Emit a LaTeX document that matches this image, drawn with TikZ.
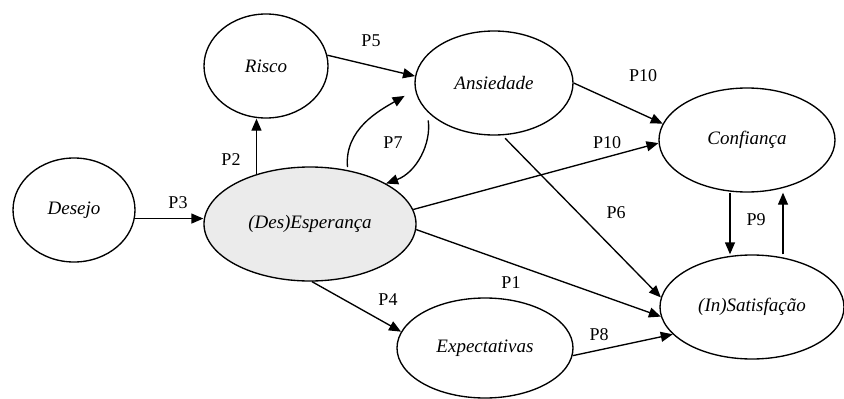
\documentclass[tikz,border=0pt]{standalone}
\usepackage{fontspec}
\setmainfont{Liberation Serif}
\usetikzlibrary{shapes.geometric,arrows.meta}
\begin{document}
\begin{tikzpicture}[x=1pt,y=1pt,
  ell/.style={ellipse,draw,line width=1.35pt,inner sep=0pt,font=\fontsize{19}{22}\selectfont\itshape},
  arr/.style={line width=1.35pt,-{Triangle[length=12pt,width=10pt]}},
  lab/.style={font=\fontsize{18}{21}\selectfont,inner sep=0pt}]
\useasboundingbox (0,0) rectangle (844,-399);
\definecolor{espfill}{HTML}{EBEBEB}
% nodes
\node[ell,minimum width=122pt,minimum height=104pt] (des) at (74,-210) {Desejo};
\node[ell,minimum width=124pt,minimum height=104pt] (ris) at (266,-66) {Risco};
\node[ell,minimum width=158pt,minimum height=104pt] (ans) at (494,-83) {Ansiedade};
\node[ell,minimum width=176pt,minimum height=104pt] (con) at (747,-140) {Confiança};
\node[ell,fill=espfill,minimum width=212pt,minimum height=114pt] (esp) at (310,-224) {(Des)Esperança};
\node[ell,minimum width=176pt,minimum height=100pt] (exp) at (485,-348) {Expectativas};
\node[ell,minimum width=184pt,minimum height=104pt] (sat) at (752,-307) {(In)Satisfação};
% connectors
\draw[arr] (des.-8) -- (esp.west |- des.-8);
\draw[arr] (esp.137) -- (ris.south -| esp.137);
\draw[arr] (ris.10) -- (ans.175);
\draw[arr,shorten <=3pt,shorten >=12pt] (esp.55) to[out=95,in=210] (ans.185);
\draw[arr,shorten <=9pt] (ans.203) to[out=-82,in=20] (esp.28);
\draw[arr] (ans.0) -- (con.169);
\draw[arr] (esp.8) -- (con.182);
\draw[arr,shorten <=4pt] (ans.-81) -- (sat.174);
\draw[arr] (esp.-3) -- (sat.186);
\draw[arr] (esp.-88) -- (exp.169);
\draw[arr] (exp.-5) -- (sat.199);
\draw[arr] ([xshift=-17pt]con.south) -- ([xshift=-17pt]con.south |- sat.north);
\draw[arr] ([xshift=36pt]con.south |- sat.north) -- ([xshift=36pt]con.south);
% labels
\node[lab] (l3) at (178,-203) {P3};
\node[lab] (l2) at (231,-160) {P2};
\node[lab] (l5) at (371,-41) {P5};
\node[lab] (l7) at (393,-143) {P7};
\node[lab] (l10a) at (643,-76) {P10};
\node[lab] (l10b) at (607,-143) {P10};
\node[lab] (l6) at (616,-213) {P6};
\node[lab] (l1) at (511,-283) {P1};
\node[lab] (l4) at (388,-300) {P4};
\node[lab] (l8) at (599,-335) {P8};
\node[lab] (l9) at (756,-220) {P9};
\end{tikzpicture}
\end{document}
